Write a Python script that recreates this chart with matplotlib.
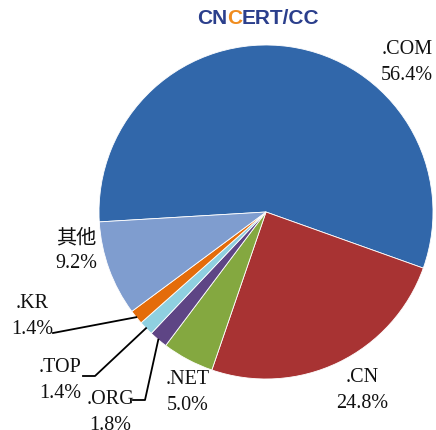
import matplotlib.pyplot as plt
import numpy as np

labels = ['.COM', '.CN', '.NET', '.ORG', '.TOP', '.KR', '其他']
shares = [56.4, 24.8, 5.0, 1.8, 1.4, 1.4, 9.2]
colors = ['#3167aa', '#a83333', '#84a840', '#5e4585', '#8fd0e0', '#e46c0a', '#7f9dcf']

W, H = 436, 430
fig = plt.figure(figsize=(W / 100, H / 100), dpi=100)
ax = fig.add_axes([0, 0, 1, 1])
ax.set_xlim(0, W)
ax.set_ylim(0, H)
ax.set_aspect('equal')
ax.axis('off')

cx, cy, r = 266, H - 212, 167
wedges, _ = ax.pie(shares, colors=colors, startangle=183.4, counterclock=False,
                   radius=r, center=(cx, cy), frame=True,
                   wedgeprops=dict(linewidth=0.6, edgecolor='white'))
ax.set_xlim(0, W)
ax.set_ylim(0, H)
ax.axis('off')

serif = ['Liberation Serif', 'Noto Sans CJK SC']
# label positions in pixel coords (x centre, y of first line)
pos = {'.COM': (407, 50), '.CN': (362, 378), '.NET': (188, 380),
       '.ORG': (110, 400), '.TOP': (60, 367), '.KR': (32, 304), '其他': (76, 238)}
for lab, val in zip(labels, shares):
    x, y = pos[lab]
    fam = ['Noto Sans CJK SC'] if lab == '其他' else serif
    ax.text(x, H - y, lab, ha='center', va='center', fontsize=14.5,
            family=fam, color='#111111')
    ax.text(x, H - y - 26, f'{val:.1f}%', ha='center', va='center',
            fontsize=14.5, family=serif, color='#111111')

# leader lines for the small slices
leaders = {'.KR': [(53, 333)], '.TOP': [(83, 376), (95, 376)],
           '.ORG': [(133, 400), (145, 400)]}
for w, lab in zip(wedges, labels):
    if lab not in leaders:
        continue
    ang = np.deg2rad((w.theta1 + w.theta2) / 2)
    px, py = cx + r * np.cos(ang), cy + r * np.sin(ang)
    pts = [(x, H - y) for x, y in leaders[lab]] + [(px, py)]
    xs, ys = zip(*pts)
    ax.plot(xs, ys, color='black', lw=1.3)

# logo text
logo = dict(fontsize=15, fontweight='bold', family='Liberation Sans',
            va='center', ha='left', color='#2b3f8c')
ax.text(197, H - 19, 'CN', **logo)
ax.text(227, H - 19, 'C', **{**logo, 'color': '#f08c1e'})
ax.text(242, H - 19, 'ERT/CC', **logo)

fig.savefig('out.png', dpi=100)
